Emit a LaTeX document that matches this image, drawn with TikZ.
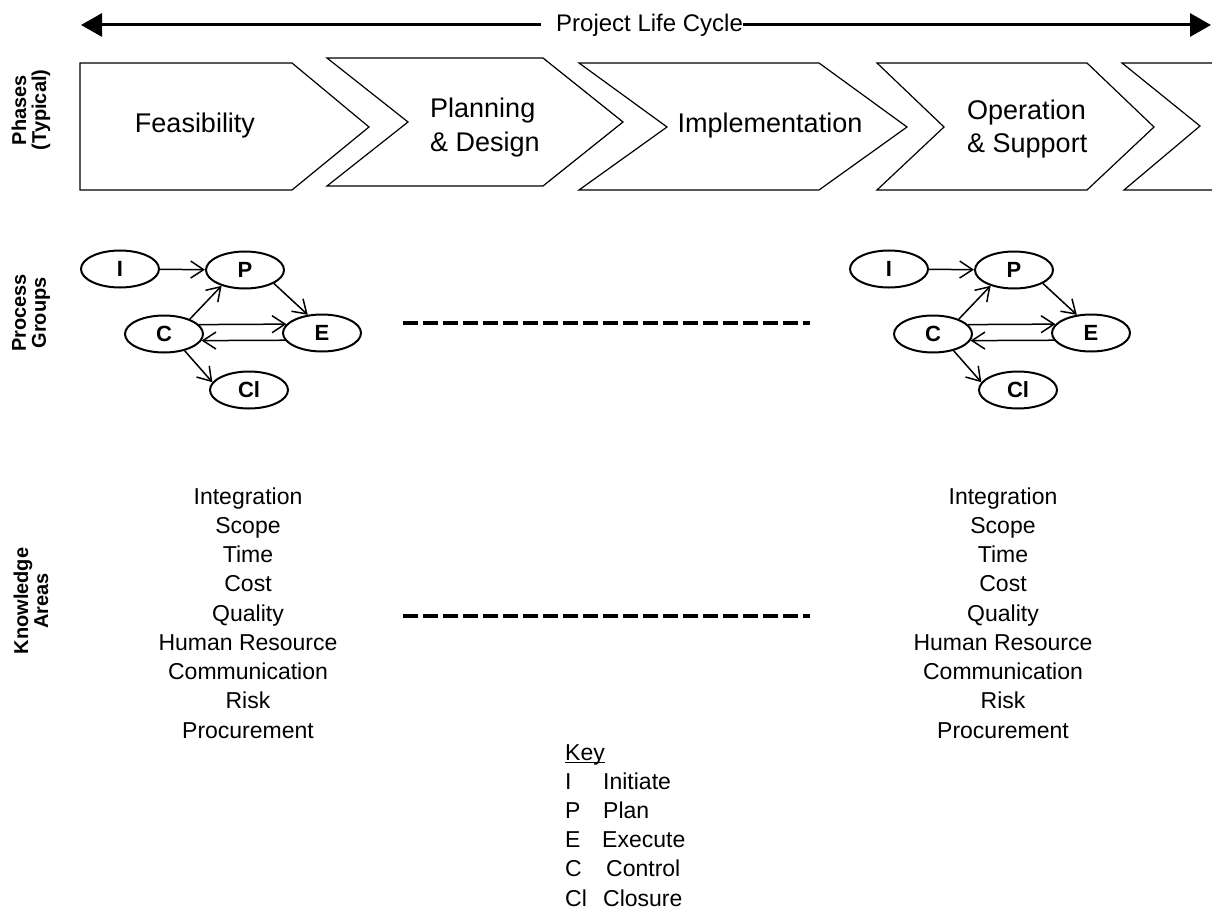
\documentclass[tikz,border=0pt]{standalone}
\usepackage{fontspec}
\setmainfont{Liberation Sans}
\usetikzlibrary{arrows.meta,shapes.geometric,calc}
\begin{document}
\begin{tikzpicture}[x=1pt,y=-1pt,
  phase/.style={draw,line width=1.2pt,line join=miter},
  ptext/.style={font=\fontsize{27}{33}\selectfont,inner sep=0,anchor=base},
  pg/.style={ellipse,draw,line width=2pt,minimum width=78pt,minimum height=37pt,inner sep=0,font=\fontsize{22}{22}\selectfont\bfseries},
  pga/.style={line width=1.5pt,-{Straight Barb[length=13pt,width=17pt,line width=1.5pt]}},
  side/.style={rotate=90,align=center,font=\fontsize{20}{20}\selectfont\bfseries,inner sep=0},
  ka/.style={font=\fontsize{23}{29}\selectfont,inner sep=0,anchor=base},
  dashln/.style={line width=3.5pt,dash pattern=on 15pt off 5pt},
  big/.style={line width=3pt,-{Triangle[length=21pt,width=23pt]}}
]
\useasboundingbox (0,0) rectangle (1212,909);
\clip (0,0) rectangle (1212,909);

% top life-cycle arrow
\node[font=\fontsize{24}{24}\selectfont,inner sep=0,anchor=west] (plc) at (556,25) {Project Life Cycle};
\coordinate (ltip) at (81,25);
\coordinate (rtip) at (1211,25);
\draw[big] ([xshift=-15pt]plc.west) -- (ltip);
\draw[big] (plc.east) -- (rtip);

% phase chevrons
\draw[phase] (80,63) -- (292,63) -- (369,127) -- (292,190) -- (80,190) -- cycle;
\draw[phase] (327,58) -- (543,58) -- (623,122) -- (543,186) -- (327,186) -- (408,122) -- cycle;
\draw[phase] (579,63) -- (819,63) -- (907,127) -- (819,190) -- (579,190) -- (667,127) -- cycle;
\draw[phase] (877,63) -- (1087,63) -- (1154,127) -- (1087,190) -- (877,190) -- (944,127) -- cycle;
\draw[phase] (1230,63) -- (1122,63) -- (1200,126) -- (1124,190) -- (1230,190);

\node[ptext] (feas) at (195,133) {Feasibility};
\node[ptext,anchor=base west] (plan1) at (430,118) {Planning};
\node[ptext,anchor=base west] (plan2) at (430,152) {\& Design};
\node[ptext] (impl) at (770,133) {Implementation};
\node[ptext,anchor=base west] (op1) at (967,120) {Operation};
\node[ptext,anchor=base west] (op2) at (967,153) {\& Support};

% side labels
\node[side] (lphase) at (31,110) {Phases\\(Typical)};
\node[side] (lpg) at (31,313) {Process\\Groups};
\node[side] (lka) at (31,601) {Knowledge\\Areas};

% process groups
\foreach \dx/\s in {0/a,769/b} {
  \node[pg] (I\s) at (120+\dx,269) {I};
  \node[pg] (P\s) at (245+\dx,270) {P};
  \node[pg] (C\s) at (164+\dx,334) {C};
  \node[pg] (E\s) at (322+\dx,333) {E};
  \node[pg] (Cl\s) at (249+\dx,390) {Cl};
  \draw[pga] (I\s) -- (P\s);
  \draw[pga] (C\s.30) -- (P\s.214);
  \draw[pga] (P\s.335) -- (E\s.128);
  \draw[pga] (C\s.15) -- (E\s.166);
  \draw[pga] (E\s.191) -- (C\s.350);
  \draw[pga] (C\s.321) -- (Cl\s.168);
}

% dashed lines
\coordinate (d1a) at (403,323); \coordinate (d1b) at (810,323);
\coordinate (d2a) at (403,616); \coordinate (d2b) at (810,616);
\draw[dashln] (d1a) -- (d1b);
\draw[dashln] (d2a) -- (d2b);

% knowledge areas
\foreach \t [count=\i] in {Integration,Scope,Time,Cost,Quality,Human Resource,Communication,Risk,Procurement} {
  \node[ka] (kl\i) at (248,504+29.25*\i-29.25) {\t};
  \node[ka] (kr\i) at (1003,504+29.25*\i-29.25) {\t};
}

% key
\node[ka,anchor=base west] (key) at (565,760) {Key};
\draw[line width=1.2pt] ([yshift=-2.5pt]key.base west) -- ([yshift=-2.5pt]key.base east);
\foreach \a/\w/\wx [count=\i] in {I/Initiate/603,P/Plan/603,E/Execute/602,C/Control/606,Cl/Closure/603} {
  \node[ka,anchor=base west] (ka\i) at (565,760+29.2*\i) {\a};
  \node[ka,anchor=base west] (kw\i) at (\wx,760+29.2*\i) {\w};
}
\end{tikzpicture}
\end{document}
